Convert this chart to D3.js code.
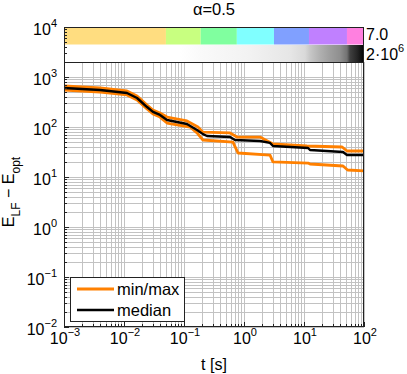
<!DOCTYPE html>
<html>
<head>
<meta charset="utf-8">
<script src="https://cdn.jsdelivr.net/npm/d3@7"></script>
<style>
  body { margin: 0; background: #fff; }
  text { font-family: "Liberation Sans", Arial, sans-serif; fill: #000; }
</style>
</head>
<body>
<div id="chart"></div>
<script>
// data
const medianT = [0.001, 0.004, 0.0112, 0.0165, 0.0242, 0.0304, 0.0398, 0.0521, 0.112, 0.165, 0.207, 0.242, 0.585, 0.708, 1.85, 2.71, 3.04, 11.7, 12.6, 44.7, 52, 100];
const medianE = [603, 550, 479, 380, 251, 200, 174, 138, 115, 87, 72, 66, 63, 55, 52.5, 48, 41.7, 38, 34.7, 31.6, 27.5, 27.5];
const maxT = [0.001, 0.004, 0.0112, 0.0165, 0.0242, 0.0304, 0.0398, 0.0521, 0.112, 0.171, 0.207, 0.585, 0.765, 1.85, 3.04, 11.2, 43.2, 52, 100];
const maxE = [661, 603, 525, 417, 275, 219, 191, 158, 132, 100, 79, 76, 63, 63, 45.7, 41.7, 39.8, 33.1, 33.1];
const minT = [0.001, 0.004, 0.0112, 0.0165, 0.0242, 0.0304, 0.0398, 0.0521, 0.126, 0.165, 0.207, 0.655, 0.794, 2.71, 3.04, 11.7, 12.6, 44.7, 53.3, 100];
const minE = [550, 501, 437, 347, 229, 182, 158, 120, 100, 76, 55, 50, 30.2, 27.5, 20, 19, 18.2, 16.6, 13.8, 13.2];

// colour band: segment start times and level (1..7)
const bandT = [0.001, 0.05, 0.19, 0.76, 3.16, 12.1, 52, 100];
const bandLevel = [1, 2, 3, 4, 5, 6, 7];
const bandColors = ["#ffdd80", "#c8ff80", "#80ff9f", "#80ffff", "#80a0ff", "#c080ff", "#ff80e0"];

// density band (grey), value at time
const densT = [0.001, 0.0858, 0.185, 1.26, 5.84, 10.4, 12.6, 18.5, 27.1, 39.8, 52, 58.4, 76.4, 92.6, 100];
const densV = [0, 0, 4e4, 1e5, 2e5, 3e5, 4.4e5, 6.2e5, 7.6e5, 8.8e5, 1.1e6, 1.5e6, 1.7e6, 1.9e6, 2e6];

const xTicks = [1e-3, 1e-2, 1e-1, 1e0, 1e1, 1e2];
const yTicks = [1e-2, 1e-1, 1e0, 1e1, 1e2, 1e3, 1e4];
const expo = v => Math.round(Math.log10(v));

const W = 407, H = 374;
const mLeft = 64, mRight = 364, mBottom = 327, mTop = 27, plotTop = 62, bandMid = 44.5;

const x = d3.scaleLog().domain([1e-3, 1e2]).range([mLeft, mRight]);
const y = d3.scaleLog().domain([1e-2, 1e4]).range([mBottom, mTop]);

const svg = d3.select("#chart").append("svg")
  .attr("width", W).attr("height", H);

// minor values
const minorX = [], minorY = [];
for (let e = -3; e < 2; e++) for (let k = 2; k < 10; k++) minorX.push(k * Math.pow(10, e));
for (let e = -2; e < 4; e++) for (let k = 2; k < 10; k++) minorY.push(k * Math.pow(10, e));

const grid = svg.append("g").attr("stroke", "#c2c2c2").attr("stroke-width", 1);
grid.selectAll(".gx").data(xTicks.concat(minorX)).enter().append("line")
  .attr("x1", d => Math.round(x(d)) + 0.5).attr("x2", d => Math.round(x(d)) + 0.5)
  .attr("y1", plotTop).attr("y2", mBottom);
grid.selectAll(".gy").data(yTicks.concat(minorY).filter(d => y(d) >= plotTop)).enter().append("line")
  .attr("y1", d => Math.round(y(d)) + 0.5).attr("y2", d => Math.round(y(d)) + 0.5)
  .attr("x1", mLeft).attr("x2", mRight);

// colour band
svg.selectAll(".band").data(bandLevel).enter().append("rect")
  .attr("x", (d, i) => x(bandT[i]))
  .attr("width", (d, i) => x(bandT[i + 1]) - x(bandT[i]))
  .attr("y", mTop).attr("height", bandMid - mTop)
  .attr("fill", d => bandColors[d - 1]);

// grey density band via gradient
const grey = d3.scaleLinear().domain([0, 2e6]).range(["#ffffff", "#000000"]);
const grad = svg.append("defs").append("linearGradient").attr("id", "dens")
  .attr("x1", 0).attr("x2", 1).attr("y1", 0).attr("y2", 0);
grad.selectAll("stop").data(densT).enter().append("stop")
  .attr("offset", d => (x(d) - mLeft) / (mRight - mLeft))
  .attr("stop-color", (d, i) => grey(densV[i]));
svg.append("rect").attr("x", mLeft).attr("width", mRight - mLeft)
  .attr("y", bandMid + 0.5).attr("height", plotTop - bandMid - 0.5)
  .attr("fill", "url(#dens)");

// curves
const line = d3.line().x(d => x(d[0])).y(d => y(d[1]));
const zip = (a, b) => a.map((t, i) => [t, b[i]]);
svg.append("path").attr("d", line(zip(maxT, maxE))).attr("fill", "none")
  .attr("stroke", "#ff8000").attr("stroke-width", 2.8).attr("stroke-linejoin", "round");
svg.append("path").attr("d", line(zip(minT, minE))).attr("fill", "none")
  .attr("stroke", "#ff8000").attr("stroke-width", 2.8).attr("stroke-linejoin", "round");
svg.append("path").attr("d", line(zip(medianT, medianE))).attr("fill", "none")
  .attr("stroke", "#000").attr("stroke-width", 2.4).attr("stroke-linejoin", "round");

// frame
const frame = svg.append("g").attr("stroke", "#222").attr("fill", "none").attr("stroke-width", 1);
frame.append("rect").attr("x", mLeft + 0.5).attr("y", mTop + 0.5)
  .attr("width", mRight - mLeft - 1).attr("height", mBottom - mTop - 1);
frame.append("line").attr("x1", mLeft).attr("x2", mRight).attr("y1", plotTop + 0.5).attr("y2", plotTop + 0.5);

// ticks inside
const tk = svg.append("g").attr("stroke", "#222");
tk.selectAll(".tyM").data(yTicks.concat(minorY)).enter().append("line")
  .attr("x1", mLeft).attr("x2", d => mLeft + (yTicks.includes(d) ? 5 : 3))
  .attr("y1", d => Math.round(y(d)) + 0.5).attr("y2", d => Math.round(y(d)) + 0.5);
tk.selectAll(".txM").data(xTicks.concat(minorX)).enter().append("line")
  .attr("y1", mBottom).attr("y2", d => mBottom - (xTicks.includes(d) ? 5 : 3))
  .attr("x1", d => Math.round(x(d)) + 0.5).attr("x2", d => Math.round(x(d)) + 0.5);

// tick labels
function pow10(sel) {
  sel.append("tspan").text("10");
  sel.append("tspan").attr("dy", -8).attr("font-size", 11)
    .text(d => String(expo(d)).replace("-", "\u2212"));
}
svg.selectAll(".xl").data(xTicks).enter().append("text")
  .attr("x", d => x(d) + 1).attr("y", 344)
  .attr("text-anchor", "middle").attr("font-size", 16)
  .call(pow10);
svg.selectAll(".yl").data(yTicks).enter().append("text")
  .attr("x", 57).attr("y", d => y(d) + 8)
  .attr("text-anchor", "end").attr("font-size", 16)
  .call(pow10);

// band labels
svg.append("text").attr("x", 366).attr("y", 40).attr("font-size", 16).text("7.0");
const lbl = svg.append("text").attr("x", 366).attr("y", 60).attr("font-size", 16);
lbl.append("tspan").text("2\u00b710");
lbl.append("tspan").attr("dy", -8).attr("font-size", 11).text("6");

// title and axis labels
svg.append("text").attr("x", 214).attr("y", 15).attr("text-anchor", "middle")
  .attr("font-size", 16.5).text("\u03b1=0.5");
svg.append("text").attr("x", 214).attr("y", 370).attr("text-anchor", "middle")
  .attr("font-size", 16).text("t [s]");
const yl = svg.append("text").attr("transform", "translate(14,192) rotate(-90)")
  .attr("text-anchor", "middle").attr("font-size", 16);
yl.append("tspan").text("E");
yl.append("tspan").attr("font-size", 12).attr("dy", 6).text("LF");
yl.append("tspan").attr("dy", -6).text(" \u2212 E");
yl.append("tspan").attr("font-size", 12).attr("dy", 6).text("opt");

// legend
const legItems = [["min/max", "#ff8000", 2.8], ["median", "#000", 2.4]];
const lg = svg.append("g");
lg.append("rect").attr("x", 70.5).attr("y", 277.5).attr("width", 114).attr("height", 44)
  .attr("fill", "#fff").attr("stroke", "#222");
legItems.forEach((d, i) => {
  lg.append("line").attr("x1", 77).attr("x2", 114)
    .attr("y1", 289 + i * 21).attr("y2", 289 + i * 21)
    .attr("stroke", d[1]).attr("stroke-width", d[2]);
  lg.append("text").attr("x", 117).attr("y", 295 + i * 21).attr("font-size", 16.5).text(d[0]);
});
</script>
</body>
</html>
